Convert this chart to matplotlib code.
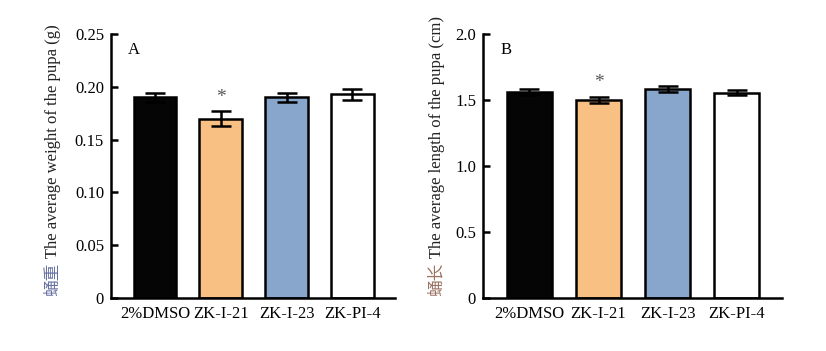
import numpy as np
import matplotlib
matplotlib.use("Agg")
import matplotlib.pyplot as plt

plt.rcParams['font.family'] = ['Liberation Serif', 'Noto Sans CJK SC']
plt.rcParams['font.size'] = 12

groups = ['2%DMSO', 'ZK-I-21', 'ZK-I-23', 'ZK-PI-4']
colors = ['#050505', '#F9C083', '#88A6CC', '#FFFFFF']

weight = [0.190, 0.170, 0.190, 0.193]
weight_err = [0.004, 0.007, 0.004, 0.005]
length = [1.56, 1.50, 1.585, 1.555]
length_err = [0.02, 0.025, 0.025, 0.02]
star = [False, True, False, False]

fig = plt.figure(figsize=(8.26, 3.51), dpi=100)
axA = fig.add_axes([0.1344, 0.151, 0.3438, 0.752])
axB = fig.add_axes([0.5847, 0.151, 0.362, 0.752])

def panel(ax, vals, errs, ylim, yticks, yticklabels, letter, zh, zh_color, en, lab_x):
    x = np.arange(len(groups))
    ax.bar(x, vals, width=0.65, color=colors, edgecolor='black', linewidth=1.8, zorder=2)
    ax.errorbar(x, vals, yerr=errs, fmt='none', ecolor='black', elinewidth=1.8,
                capsize=7.2, capthick=1.8, zorder=3)
    for i in range(len(x)):
        if star[i]:
            ax.annotate('*', (x[i], vals[i] + errs[i]), xytext=(0, 4),
                        textcoords='offset points', ha='center', va='bottom',
                        color='#555555', fontsize=14)
    ax.set_ylim(*ylim)
    ax.set_yticks(yticks)
    ax.set_yticklabels(yticklabels)
    ax.set_xticks(x)
    ax.set_xticklabels(groups)
    ax.set_xlim(-0.67, 3.65)
    for s in ['top', 'right']:
        ax.spines[s].set_visible(False)
    for s in ['left', 'bottom']:
        ax.spines[s].set_linewidth(1.8)
    ax.tick_params(axis='y', direction='in', length=5, width=1.8, pad=5)
    ax.tick_params(axis='x', length=0, pad=6)
    ax.text(0.06, 0.97, letter, transform=ax.transAxes, ha='left', va='top')
    split = 0.135
    ax.text(lab_x, split, zh, transform=ax.transAxes, rotation=90, rotation_mode='anchor',
            ha='right', va='center', color=zh_color,
            family=['Noto Sans CJK SC'])
    ax.text(lab_x, split, ' ' + en, transform=ax.transAxes, rotation=90, rotation_mode='anchor',
            ha='left', va='center', color='#222222')

panel(axA, weight, weight_err, (0, 0.25), [0, 0.05, 0.10, 0.15, 0.20, 0.25],
      ['0', '0.05', '0.10', '0.15', '0.20', '0.25'], 'A', '蛹重', '#6670A0',
      'The average weight of the pupa (g)', -0.205)
panel(axB, length, length_err, (0, 2.0), [0, 0.5, 1.0, 1.5, 2.0],
      ['0', '0.5', '1.0', '1.5', '2.0'], 'B', '蛹长', '#9A7262',
      'The average length of the pupa (cm)', -0.155)

fig.savefig('out.png', dpi=100)
